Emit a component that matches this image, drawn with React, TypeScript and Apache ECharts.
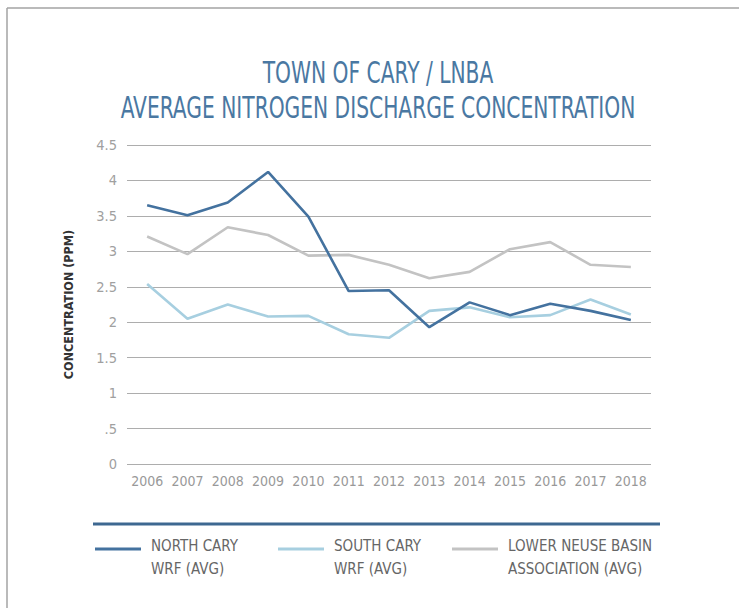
import React, { useEffect, useRef } from 'react';
import * as echarts from 'echarts';

const years = ['2006', '2007', '2008', '2009', '2010', '2011', '2012', '2013', '2014', '2015', '2016', '2017', '2018'];
const northCary = [3.65, 3.51, 3.69, 4.12, 3.49, 2.44, 2.45, 1.93, 2.28, 2.1, 2.26, 2.16, 2.03];
const southCary = [2.54, 2.05, 2.25, 2.08, 2.09, 1.83, 1.78, 2.16, 2.21, 2.07, 2.1, 2.32, 2.11];
const lnba = [3.21, 2.96, 3.34, 3.23, 2.94, 2.95, 2.81, 2.62, 2.71, 3.03, 3.13, 2.81, 2.78];
const seriesNames = ['NORTH CARY WRF (AVG)', 'SOUTH CARY WRF (AVG)', 'LOWER NEUSE BASIN ASSOCIATION (AVG)'];
const legendLines = [
  ['NORTH CARY', 'WRF (AVG)'],
  ['SOUTH CARY', 'WRF (AVG)'],
  ['LOWER NEUSE BASIN', 'ASSOCIATION (AVG)'],
];
const titleLines = ['TOWN OF CARY / LNBA', 'AVERAGE NITROGEN DISCHARGE CONCENTRATION'];
const yAxisTitle = 'CONCENTRATION (PPM)';

const FONT = "'Liberation Sans Narrow', 'DejaVu Sans Condensed', 'Arial Narrow', sans-serif";
const colors = ['#44729f', '#a7cfe0', '#c3c3c3'];

export default function App() {
  const ref = useRef<HTMLDivElement>(null);
  useEffect(() => {
    document.body.style.margin = '0';
    const chart = echarts.init(ref.current!, null, { renderer: 'svg' });
    const legendLefts = [95, 278, 452];
    const seriesData = [northCary, southCary, lnba];
    chart.setOption({
      animation: false,
      backgroundColor: '#ffffff',
      grid: { left: 127, right: 88, top: 145, bottom: 144 },
      xAxis: {
        type: 'category',
        data: years,
        boundaryGap: true,
        axisLine: { show: false },
        axisTick: { show: false },
        axisLabel: { color: '#999999', fontFamily: FONT, fontSize: 14, margin: 10, interval: 0 },
      },
      yAxis: {
        type: 'value',
        min: 0,
        max: 4.5,
        interval: 0.5,
        name: yAxisTitle,
        nameLocation: 'middle',
        nameRotate: 90,
        nameGap: 52,
        nameTextStyle: { color: '#333333', fontFamily: FONT, fontSize: 12.5, fontWeight: 'bold' },
        axisLine: { show: false },
        axisTick: { show: false },
        axisLabel: {
          color: '#a0a0a0',
          fontFamily: FONT,
          fontSize: 14.5,
          margin: 10,
          formatter: (v: number) => (v === 0.5 ? '.5' : String(v)),
        },
        splitLine: { lineStyle: { color: '#adadad', width: 1.2 } },
      },
      legend: legendLines.map((lines, i) => ({
        data: [seriesNames[i]],
        left: legendLefts[i],
        top: 518,
        padding: 0,
        icon: 'rect',
        itemWidth: 46,
        itemHeight: 3,
        itemGap: 10,
        formatter: () => `{s| }\n{a|${lines[0]}}\n{a|${lines[1]}}`,
        textStyle: {
          color: '#666666',
          fontFamily: FONT,
          fontSize: 15,
          rich: {
            s: { fontSize: 10, lineHeight: 16, height: 16 },
            a: { color: '#666666', fontFamily: FONT, fontSize: 15, lineHeight: 23, padding: [0, 0, 0, 5] },
          },
        },
      })),
      series: seriesNames.map((n, i) => ({
        name: n,
        type: 'line',
        data: seriesData[i],
        symbol: 'none',
        z: 3 - i,
        lineStyle: { color: colors[i], width: 2.6 },
        itemStyle: { color: colors[i] },
      })),
      graphic: [
        { type: 'line', shape: { x1: 7, y1: 8, x2: 739, y2: 8 }, style: { stroke: '#a3a3a3', lineWidth: 1.5 } },
        { type: 'line', shape: { x1: 7, y1: 8, x2: 7, y2: 608 }, style: { stroke: '#a3a3a3', lineWidth: 1.5 } },
        { type: 'line', shape: { x1: 93, y1: 524, x2: 660, y2: 524 }, style: { stroke: '#3e6891', lineWidth: 3 } },
        {
          type: 'text', x: 378, y: 72, scaleX: 0.75,
          style: { text: titleLines[0], fill: '#4a78a2', font: `30px ${FONT}`, textAlign: 'center', textVerticalAlign: 'middle' },
        },
        {
          type: 'text', x: 378, y: 107, scaleX: 0.75,
          style: { text: titleLines[1], fill: '#4a78a2', font: `30px ${FONT}`, textAlign: 'center', textVerticalAlign: 'middle' },
        },
      ],
    });
    return () => chart.dispose();
  }, []);
  return <div ref={ref} style={{ width: 739, height: 608 }} />;
}
